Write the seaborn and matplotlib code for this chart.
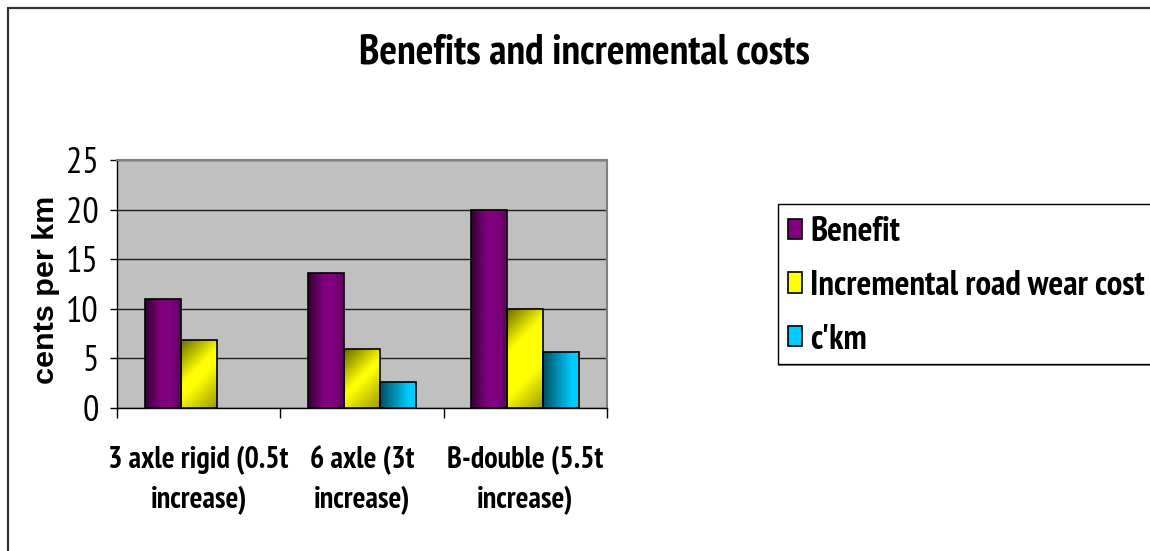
import numpy as np
import pandas as pd
import matplotlib
matplotlib.use("Agg")
import matplotlib.pyplot as plt
from matplotlib import font_manager
from matplotlib.font_manager import FontProperties
from matplotlib.textpath import TextPath
from matplotlib.patches import Patch, Rectangle
from matplotlib.lines import Line2D
import seaborn as sns

# ---- data -------------------------------------------------------------
categories = ["3 axle rigid (0.5t\nincrease)", "6 axle (3t\nincrease)", "B-double (5.5t\nincrease)"]
series = ["Benefit", "Incremental road wear cost", "c'km"]
benefit = [11.0, 13.6, 20.0]
road_wear = [6.9, 5.9, 10.0]
ckm = [np.nan, 2.6, 5.6]
yticks = [0, 5, 10, 15, 20, 25]

title = "Benefits and incremental costs"
ylabel = "cents per km"

colors = {"Benefit": "#800080", "Incremental road wear cost": "#FFFF00", "c'km": "#00CCFF"}

# ---- fonts ------------------------------------------------------------
entries = font_manager.fontManager.ttflist


def has_bold(name):
    ws = [f.weight for f in entries if f.name == name]
    ws = [w if isinstance(w, int) else 400 for w in ws]
    return any(w >= 700 for w in ws) and any(w <= 400 for w in ws)


narrow_candidates = ["Liberation Sans Narrow", "Arial Narrow", "PT Sans Narrow",
                     "Roboto Condensed", "Pragati Narrow", "Asap Condensed",
                     "Barlow Condensed", "Liberation Sans"]
narrow = next(n for n in narrow_candidates if has_bold(n) or n == "Liberation Sans")
wide = "Liberation Sans"

df = pd.DataFrame({
    "category": np.repeat(categories, len(series)),
    "series": series * len(categories),
    "value": np.ravel(np.column_stack([benefit, road_wear, ckm])),
})

sns.set_style("white")
plt.rcParams["font.family"] = [narrow, "DejaVu Sans"]
for key in ["text.color", "axes.labelcolor", "xtick.color", "ytick.color"]:
    plt.rcParams[key] = "black"


def fit_size(text, target_px, family, weight="normal"):
    """Font size (pt, at 100 dpi) giving the requested rendered width in pixels."""
    fp = FontProperties(family=family, weight=weight, size=100)
    w = TextPath((0, 0), text, prop=fp).get_extents().width  # in points at size 100
    return 100 * (target_px * 0.72) / w


W, H = 1150, 551
fig = plt.figure(figsize=(W / 100, H / 100), dpi=100)
ax = fig.add_axes([117 / W, 1 - 408 / H, 490 / W, 248 / H])
ax.set_facecolor("#C0C0C0")

sns.barplot(data=df, x="category", y="value", hue="series", order=categories,
            hue_order=series, palette=colors, width=0.66, gap=0,
            edgecolor="black", linewidth=1.2, errorbar=None, legend=False,
            ax=ax, zorder=3)

ax.set_xlim(-0.5, len(categories) - 0.5)
ax.set_ylim(0, 25)


def shading(kind, npx, npy):
    xx, yy = np.meshgrid(np.arange(npx) + 0.5, np.arange(npy) + 0.5)
    u = xx / npx
    if kind == "Benefit":
        f = 0.32 + 0.68 * np.clip(u / 0.45, 0, 1) ** 0.8
        f = f * (1 - 0.25 * np.clip((u - 0.72) / 0.28, 0, 1))
    elif kind == "c'km":
        f = 0.38 + 0.62 * np.clip(u / 0.8, 0, 1)
    else:
        d1 = (xx + yy) / 45.0
        d2 = ((npx - xx) + (npy - yy)) / 45.0
        f = (0.4 + 0.6 * np.clip(d1, 0, 1)) * (0.6 + 0.4 * np.clip(d2, 0, 1))
    return f


def shade_bar(patch, kind):
    h = patch.get_height()
    if not np.isfinite(h) or h <= 0:
        return
    x0, y0, w = patch.get_x(), patch.get_y(), patch.get_width()
    (px0, py0), (px1, py1) = ax.transData.transform([(x0, y0), (x0 + w, y0 + h)])
    npx = max(int(round(abs(px1 - px0))), 2)
    npy = max(int(round(abs(py1 - py0))), 2)
    base = np.array(matplotlib.colors.to_rgb(colors[kind]))
    img = np.clip(shading(kind, npx, npy)[..., None] * base, 0, 1)
    im = ax.imshow(img, extent=(x0, x0 + w, y0, y0 + h), origin="upper",
                   aspect="auto", interpolation="bilinear", zorder=3)
    im.set_clip_path(patch)
    patch.set_facecolor("none")
    patch.set_zorder(4)


for kind, cont in zip(series, ax.containers):
    for p in cont.patches:
        shade_bar(p, kind)

ax.set_xlim(-0.5, len(categories) - 0.5)
ax.set_ylim(0, 25)

# ---- text sizes from target widths ------------------------------------
tick_size = fit_size("25", 28, narrow)
cat_size = fit_size("3 axle rigid (0.5t", 178, narrow, "bold")
title_size = fit_size(title, 448, narrow, "bold")
legend_size = fit_size("Incremental road wear cost", 333, narrow, "bold")
ylabel_size = fit_size(ylabel, 185, wide, "bold")

# ---- axes styling -----------------------------------------------------
ax.set_yticks(yticks)
ax.set_yticklabels([str(t) for t in yticks], fontsize=tick_size)
ax.yaxis.grid(True, color="#202020", linewidth=1.0, zorder=1)
ax.set_axisbelow(True)
ax.tick_params(axis="y", direction="out", length=5, width=1, color="black",
               left=True, pad=8)

ax.set_xticks(np.arange(-0.5, len(categories)), labels=[""] * (len(categories) + 1))
ax.tick_params(axis="x", which="major", direction="out", length=7, width=1,
               color="black", bottom=True)
ax.set_xticks(np.arange(len(categories)), labels=categories, minor=True)
ax.tick_params(axis="x", which="minor", length=0, pad=27)
for lbl in ax.get_xticklabels(minor=True):
    lbl.set_fontsize(cat_size)
    lbl.set_fontweight("bold")
    lbl.set_linespacing(1.5)

for s in ["left", "bottom"]:
    ax.spines[s].set_color("black")
    ax.spines[s].set_linewidth(1.0)
for s in ["top", "right"]:
    ax.spines[s].set_color("#808080")
    ax.spines[s].set_linewidth(1.5)

ax.set_xlabel("")
ax.set_ylabel(ylabel, fontsize=ylabel_size, fontweight="bold", family=wide)
ax.yaxis.set_label_coords((60 - 117) / 490, (408 - 290) / 248)

fig.text(584 / W, 1 - 53 / H, title, ha="center", va="center",
         fontsize=title_size, fontweight="bold")

# ---- legend -----------------------------------------------------------
fig.add_artist(Rectangle((778 / W, 1 - 366 / H), 400 / W, 160 / H,
                         transform=fig.transFigure, facecolor="#808080",
                         edgecolor="none", zorder=0))
fig.add_artist(Rectangle((778 / W, 1 - 364 / H), 400 / W, 160 / H,
                         transform=fig.transFigure, facecolor="white",
                         edgecolor="black", linewidth=1.0, zorder=1))
handles = [Patch(facecolor=colors[s], edgecolor="black", linewidth=1.2) for s in series]
fs_px = legend_size / 0.72
leg = fig.legend(handles, series, loc="center left",
                 bbox_to_anchor=(788 / W, 1 - 286 / H), frameon=False,
                 prop={"family": narrow, "weight": "bold", "size": legend_size},
                 handlelength=14 / fs_px, handleheight=18 / fs_px,
                 handletextpad=8 / fs_px, labelspacing=0.62,
                 borderpad=0, borderaxespad=0)
leg.set_zorder(2)

# ---- outer frame ------------------------------------------------------
fig.add_artist(Line2D([8 / W, 8 / W], [0, 1 - 8 / H], transform=fig.transFigure,
                      color="#333333", linewidth=1.6))
fig.add_artist(Line2D([8 / W, 1], [1 - 8 / H, 1 - 8 / H], transform=fig.transFigure,
                      color="#333333", linewidth=1.6))

fig.savefig("out.png", dpi=100, facecolor="white")
